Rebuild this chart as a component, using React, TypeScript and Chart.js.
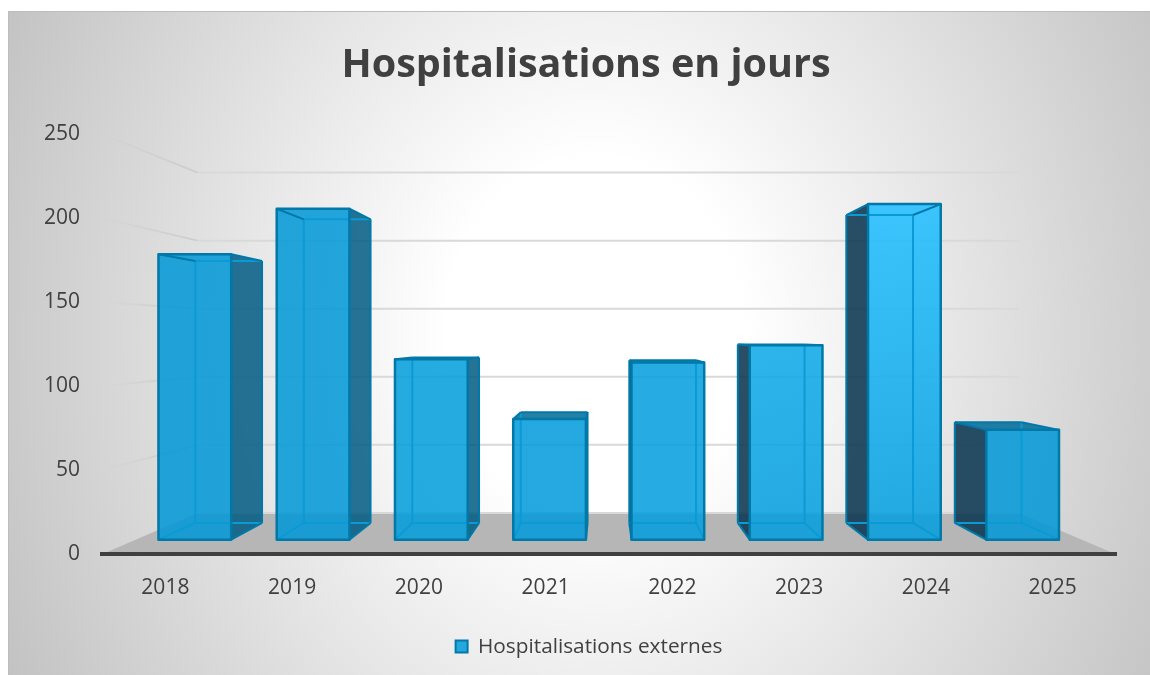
import React, { useEffect, useRef } from "react";
import { Chart, registerables } from "chart.js";

Chart.register(...registerables);

const title = "Hospitalisations en jours";
const seriesName = "Hospitalisations externes";
const years = ["2018", "2019", "2020", "2021", "2022", "2023", "2024", "2025"];
const hospitalisations = [182, 211, 115, 77, 113, 124, 214, 70];
const yTicks = [0, 50, 100, 150, 200, 250];
const faceTop = [
  "rgba(0,152,215,0.86)", "rgba(0,152,215,0.86)", "rgba(0,157,220,0.85)", "rgba(0,154,218,0.86)",
  "rgba(0,157,222,0.85)", "rgba(8,168,232,0.85)", "rgba(40,192,255,0.9)", "rgba(0,152,215,0.86)",
];
const faceBottom = [
  "rgba(0,152,215,0.86)", "rgba(0,152,215,0.86)", "rgba(0,157,220,0.85)", "rgba(0,154,218,0.86)",
  "rgba(0,157,222,0.85)", "rgba(0,157,222,0.85)", "rgba(0,157,222,0.85)", "rgba(0,152,215,0.86)",
];

const VX = 605;
const VY = 337;
const K_FRONT = 0.933;
const K_BACK = 0.856;
const K_WALL = 0.81;
const EDGE = "#0078a8";
const INNER = "#0a9ad6";
const TEXT = "#404040";
const FONT = "'Open Sans', sans-serif";

const project = (x: number, y: number, k: number) => [VX + (x - VX) * k, VY + (y - VY) * k];

function poly(ctx: CanvasRenderingContext2D, pts: number[][]) {
  ctx.beginPath();
  pts.forEach((p, i) => (i ? ctx.lineTo(p[0], p[1]) : ctx.moveTo(p[0], p[1])));
}

function segment(ctx: CanvasRenderingContext2D, a: number[], b: number[], color: any, w: number) {
  ctx.strokeStyle = color;
  ctx.lineWidth = w;
  ctx.beginPath();
  ctx.moveTo(a[0], a[1]);
  ctx.lineTo(b[0], b[1]);
  ctx.stroke();
}

const scene3d = {
  id: "scene3d",
  afterUpdate(chart: any) {
    chart.scales.y.left = 8;
    chart.legend.left += 3;
    chart.legend.right += 3;
  },
  beforeDraw(chart: any) {
    const { ctx, chartArea, scales } = chart;
    const W = chart.width;
    const H = chart.height;
    ctx.save();
    // chart background
    ctx.beginPath();
    ctx.rect(8, 11, W - 8, H - 11);
    ctx.clip();
    ctx.save();
    ctx.translate(595, 335);
    ctx.scale(1, 1.18);
    const g = ctx.createRadialGradient(0, 0, 0, 0, 0, 700);
    g.addColorStop(0, "#ffffff");
    g.addColorStop(0.214, "#ffffff");
    g.addColorStop(1, "#bdbdbd");
    ctx.fillStyle = g;
    ctx.fillRect(-700, -700, 1400, 1400);
    ctx.restore();
    ctx.strokeStyle = "#bdbdbd";
    ctx.lineWidth = 2;
    ctx.beginPath();
    ctx.moveTo(8, H);
    ctx.lineTo(8, 11);
    ctx.lineTo(W, 11);
    ctx.stroke();
    ctx.restore();

    // floor
    const left = chartArea.left;
    const right = chartArea.right;
    const base = scales.y.getPixelForValue(0);
    ctx.save();
    poly(ctx, [[left, base], project(left, base, K_WALL), project(right, base, K_WALL), [right, base]]);
    ctx.closePath();
    ctx.fillStyle = "#b6b6b6";
    ctx.fill();
    // wall grid and left side grid
    yTicks.forEach((t) => {
      const y = scales.y.getPixelForValue(t);
      const a = project(left, y, K_WALL);
      const b = project(right, y, K_WALL);
      if (t > 0) {
        const fade = ctx.createLinearGradient(left, y, a[0], a[1]);
        fade.addColorStop(0, "rgba(200,200,200,0)");
        fade.addColorStop(1, "rgba(205,205,205,1)");
        segment(ctx, [left, y], a, fade, 2);
      }
      segment(ctx, a, b, "#d9d9d9", 2);
    });
    ctx.restore();
  },
  beforeDatasetDraw(chart: any, args: any) {
    const { ctx, scales } = chart;
    const meta = args.meta;
    const base = scales.y.getPixelForValue(0);
    ctx.save();
    ctx.lineJoin = "round";
    meta.data.forEach((bar: any, i: number) => {
      const l = bar.x - bar.width / 2;
      const r = bar.x + bar.width / 2;
      const t = bar.y;
      const fTL = project(l, t, K_FRONT);
      const fTR = project(r, t, K_FRONT);
      const fBL = project(l, base, K_FRONT);
      const fBR = project(r, base, K_FRONT);
      const bTL = project(l, t, K_BACK);
      const bTR = project(r, t, K_BACK);
      const bBL = project(l, base, K_BACK);
      const bBR = project(r, base, K_BACK);

      // top face, visible only below the horizon
      if (bTL[1] < fTL[1]) {
        poly(ctx, [fTL, fTR, bTR, bTL]);
        ctx.closePath();
        ctx.fillStyle = "rgba(0,105,150,0.85)";
        ctx.fill();
      }
      // side face
      const rightSide = bBR[0] > fBR[0];
      const leftSide = bBL[0] < fBL[0];
      if (rightSide) {
        poly(ctx, [fTR, bTR, bBR, fBR]);
        ctx.closePath();
        ctx.fillStyle = "rgba(0,90,130,0.85)";
        ctx.fill();
      }
      if (leftSide) {
        poly(ctx, [fTL, bTL, bBL, fBL]);
        ctx.closePath();
        ctx.fillStyle = "rgba(10,55,80,0.88)";
        ctx.fill();
      }
      // front face
      const grad = ctx.createLinearGradient(0, fTL[1], 0, fBL[1]);
      grad.addColorStop(0, faceTop[i]);
      grad.addColorStop(1, faceBottom[i]);
      poly(ctx, [fTL, fTR, fBR, fBL]);
      ctx.closePath();
      ctx.fillStyle = grad;
      ctx.fill();

      // inner edges seen through the glass
      if (bBL[0] >= fBL[0]) segment(ctx, bTL, bBL, INNER, 2);
      else segment(ctx, bTL, bBL, EDGE, 2);
      if (bBR[0] <= fBR[0]) segment(ctx, bTR, bBR, INNER, 2);
      else segment(ctx, bTR, bBR, EDGE, 2);
      segment(ctx, bBL, bBR, INNER, 2);
      segment(ctx, bTL, bTR, bTL[1] < fTL[1] ? EDGE : INNER, 2);
      segment(ctx, fBL, bBL, bBL[0] >= fBL[0] ? INNER : EDGE, 2);
      segment(ctx, fBR, bBR, bBR[0] <= fBR[0] ? INNER : EDGE, 2);
      segment(ctx, fTL, bTL, EDGE, 2);
      segment(ctx, fTR, bTR, EDGE, 2);
      // outer edges
      poly(ctx, [fTL, fTR, fBR, fBL]);
      ctx.closePath();
      ctx.strokeStyle = EDGE;
      ctx.lineWidth = 2.5;
      ctx.stroke();
    });
    ctx.restore();
    return false;
  },
};

export default function App() {
  const ref = useRef<HTMLCanvasElement | null>(null);
  useEffect(() => {
    const chart = new Chart(ref.current as HTMLCanvasElement, {
      type: "bar",
      data: {
        labels: years,
        datasets: [
          {
            label: seriesName,
            data: hospitalisations,
            backgroundColor: "#22a7de",
            borderColor: EDGE,
            borderWidth: 2,
            barPercentage: 0.615,
            categoryPercentage: 1,
          },
        ],
      },
      plugins: [scene3d],
      options: {
        responsive: false,
        animation: false,
        layout: { padding: { left: 56, right: 34, top: 0, bottom: 8 } },
        plugins: {
          tooltip: { enabled: false },
          title: {
            display: true,
            text: title,
            color: TEXT,
            font: { family: FONT, size: 39.5, weight: "bold", lineHeight: 1.2 },
            padding: { top: 42, bottom: 44.6 },
          },
          legend: {
            position: "bottom",
            labels: {
              color: TEXT,
              font: { family: FONT, size: 20.8 },
              boxWidth: 12,
              boxHeight: 12,
              padding: 17,
            },
          },
        },
        scales: {
          x: {
            grid: { display: false, drawTicks: false },
            border: { color: "#404040", width: 4 },
            ticks: { color: TEXT, font: { family: FONT, size: 21 }, padding: 21, maxRotation: 0 },
            afterFit(s: any) {
              s.height = 65;
            },
          },
          y: {
            min: 0,
            max: 250,
            grid: { display: false, drawTicks: false },
            border: { display: false },
            afterBuildTicks(s: any) {
              s.ticks = yTicks.map((value) => ({ value }));
            },
            ticks: { color: TEXT, font: { family: FONT, size: 21 }, padding: 22 },
            afterFit(s: any) {
              s.width = 46;
            },
          },
        },
      },
    } as any);
    return () => chart.destroy();
  }, []);
  return (
    <canvas
      ref={ref}
      width={1150}
      height={675}
      style={{ position: "fixed", left: 0, top: 0, display: "block" }}
    />
  );
}
